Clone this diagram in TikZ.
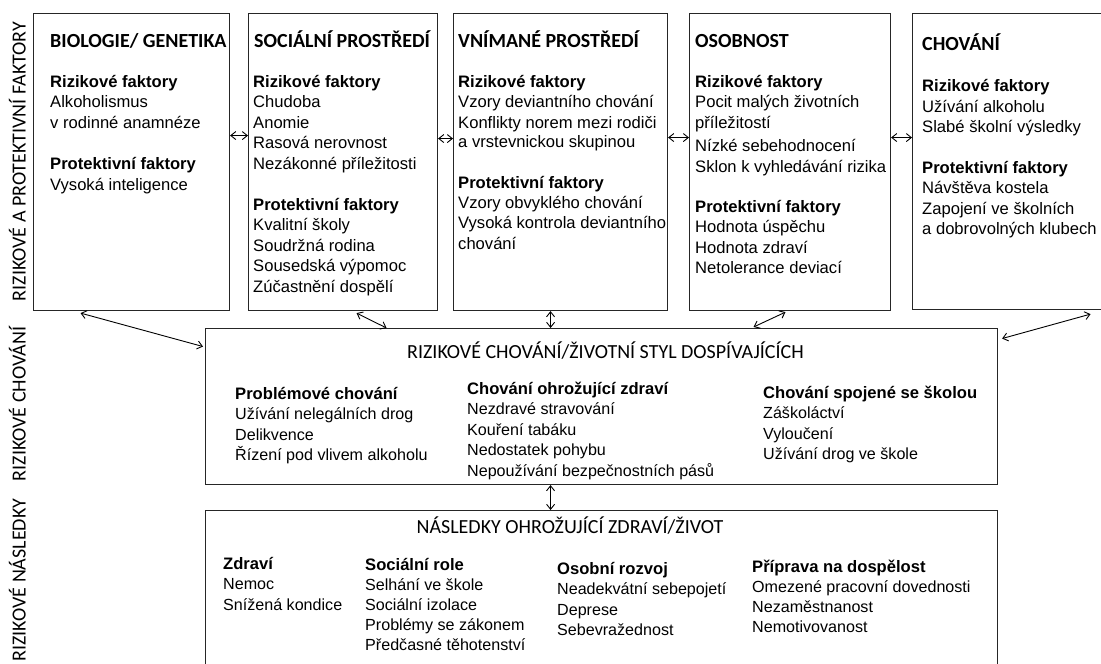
\documentclass[tikz,border=0pt]{standalone}
\usepackage{fontspec}
\setmainfont{Liberation Sans}
\newfontfamily\capfont{Carlito}
\usetikzlibrary{arrows.meta}

\tikzset{
  box/.style={draw=black!85,line width=1.1pt,rectangle,anchor=north west,inner sep=0pt},
  head/.style={anchor=base west,inner sep=0pt,font=\capfont\bfseries\fontsize{20}{24}\selectfont},
  title/.style={anchor=base,inner sep=0pt,font=\capfont\fontsize{20}{24}\selectfont},
  side/.style={rotate=90,anchor=base,inner sep=0pt,font=\capfont\fontsize{20}{24}\selectfont},
  sect/.style={anchor=base west,inner sep=0pt,font=\fontsize{16.6}{20}\selectfont\bfseries},
  item/.style={anchor=base west,inner sep=0pt,font=\fontsize{16.6}{20}\selectfont},
  litem/.style={anchor=base west,inner sep=0pt,font=\fontsize{16.1}{20}\selectfont},
  link/.style={<->,line width=0.9pt,>={Straight Barb[length=5pt,width=8pt]}}
}

\begin{document}
\begin{tikzpicture}[x=1pt,y=-1pt]
  \useasboundingbox (0,0) rectangle (1101,664);

  % side labels
  \node[side] (lab1) at (25.5,161.5) {RIZIKOVÉ A PROTEKTIVNÍ FAKTORY};
  \node[side] (lab2) at (25.5,404) {RIZIKOVÉ CHOVÁNÍ};
  \node[side] (lab3) at (25.5,580) {RIZIKOVÉ NÁSLEDKY};

  % boxes
  \node[box,minimum width=196pt,minimum height=297pt] (bio) at (33,13) {};
  \node[box,minimum width=189pt,minimum height=297pt] (soc) at (248,13) {};
  \node[box,minimum width=214pt,minimum height=297pt] (vni) at (453,13) {};
  \node[box,minimum width=201pt,minimum height=297pt] (oso) at (689,13) {};
  \node[box,minimum width=190pt,minimum height=296pt] (cho) at (912,13) {};
  \node[box,minimum width=792pt,minimum height=156pt] (risk) at (205,328) {};
  \node[box,minimum width=792pt,minimum height=200pt] (cons) at (205,510) {};

  % biologie
  \node[head] (bio-t) at (50,47) {BIOLOGIE/ GENETIKA};
  \node[sect] (bio-r) at (50,87) {Rizikové faktory};
  \foreach \t [count=\i] in {Alkoholismus, v rodinné anamnéze}
    \node[item] (bio-r\i) at (50,87+20.6*\i) {\t};
  \node[sect] (bio-p) at (50,169) {Protektivní faktory};
  \node[item] (bio-p1) at (50,190) {Vysoká inteligence};

  % socialni prostredi
  \node[head] (soc-t) at (254,47) {SOCIÁLNÍ PROSTŘEDÍ};
  \node[sect] (soc-r) at (253,87) {Rizikové faktory};
  \foreach \t [count=\i] in {Chudoba, Anomie, Rasová nerovnost, Nezákonné příležitosti}
    \node[item] (soc-r\i) at (253,87+20.6*\i) {\t};
  \node[sect] (soc-p) at (253,210) {Protektivní faktory};
  \foreach \t [count=\i] in {Kvalitní školy, Soudržná rodina, Sousedská výpomoc, Zúčastnění dospělí}
    \node[item] (soc-p\i) at (253,210+20.6*\i) {\t};

  % vnimane prostredi
  \node[head] (vni-t) at (458,47) {VNÍMANÉ PROSTŘEDÍ};
  \node[sect] (vni-r) at (458,87) {Rizikové faktory};
  \foreach \t/\y [count=\i] in {Vzory deviantního chování/107.5, Konflikty norem mezi rodiči/128, a vrstevnickou skupinou/147}
    \node[item] (vni-r\i) at (458,\y) {\t};
  \node[sect] (vni-p) at (458,188) {Protektivní faktory};
  \foreach \t [count=\i] in {Vzory obvyklého chování, Vysoká kontrola deviantního, chování}
    \node[item] (vni-p\i) at (458,188+20.4*\i) {\t};

  % osobnost
  \node[head] (oso-t) at (695,47) {OSOBNOST};
  \node[sect] (oso-r) at (695,87) {Rizikové faktory};
  \foreach \t/\y [count=\i] in {Pocit malých životních/107.5, příležitostí/128, Nízké sebehodnocení/151.5, Sklon k vyhledávání rizika/172}
    \node[item] (oso-r\i) at (695,\y) {\t};
  \node[sect] (oso-p) at (695,212) {Protektivní faktory};
  \foreach \t [count=\i] in {Hodnota úspěchu, Hodnota zdraví, Netolerance deviací}
    \node[item] (oso-p\i) at (695,212+20.5*\i) {\t};

  % chovani
  \node[head] (cho-t) at (922,50) {CHOVÁNÍ};
  \node[sect] (cho-r) at (922,91.5) {Rizikové faktory};
  \foreach \t [count=\i] in {Užívání alkoholu, Slabé školní výsledky}
    \node[item] (cho-r\i) at (922,91.5+20.5*\i) {\t};
  \node[sect] (cho-p) at (922,173) {Protektivní faktory};
  \foreach \t [count=\i] in {Návštěva kostela, Zapojení ve školních, a dobrovolných klubech}
    \node[item] (cho-p\i) at (922,173+20.5*\i) {\t};

  % rizikove chovani
  \node[title] (risk-t) at (605.5,358) {RIZIKOVÉ CHOVÁNÍ/ŽIVOTNÍ STYL DOSPÍVAJÍCÍCH};
  \node[sect] (prob) at (235,399) {Problémové chování};
  \foreach \t [count=\i] in {Užívání nelegálních drog, Delikvence, Řízení pod vlivem alkoholu}
    \node[litem] (prob\i) at (235,399+20.5*\i) {\t};
  \node[sect] (zdr) at (467,394) {Chování ohrožující zdraví};
  \foreach \t [count=\i] in {Nezdravé stravování, Kouření tabáku, Nedostatek pohybu, Nepoužívání bezpečnostních pásů}
    \node[litem] (zdr\i) at (467,394+20.5*\i) {\t};
  \node[sect] (skol) at (763,398) {Chování spojené se školou};
  \foreach \t [count=\i] in {Záškoláctví, Vyloučení, Užívání drog ve škole}
    \node[litem] (skol\i) at (763,398+20.5*\i) {\t};

  % nasledky
  \node[title] (cons-t) at (570,533) {NÁSLEDKY OHROŽUJÍCÍ ZDRAVÍ/ŽIVOT};
  \node[sect] (hlth) at (223,569.5) {Zdraví};
  \foreach \t [count=\i] in {Nemoc, Snížená kondice}
    \node[litem] (hlth\i) at (223,569.5+20.3*\i) {\t};
  \node[sect] (role) at (365,570.5) {Sociální role};
  \foreach \t [count=\i] in {Selhání ve škole, Sociální izolace, Problémy se zákonem, Předčasné těhotenství}
    \node[litem] (role\i) at (365,570.5+20.1*\i) {\t};
  \node[sect] (pers) at (557,574.5) {Osobní rozvoj};
  \foreach \t [count=\i] in {Neadekvátní sebepojetí, Deprese, Sebevražednost}
    \node[litem] (pers\i) at (557,574.5+20.3*\i) {\t};
  \node[sect] (adlt) at (752,572) {Příprava na dospělost};
  \foreach \t [count=\i] in {Omezené pracovní dovednosti, Nezaměstnanost, Nemotivovanost}
    \node[litem] (adlt\i) at (752,572+20.2*\i) {\t};

  % connectors
  \draw[link] ([yshift=26.5pt]bio.east) -- ([yshift=26.5pt]soc.west);
  \draw[link] ([yshift=23.5pt]soc.east) -- ([yshift=23.5pt]vni.west);
  \draw[link] ([yshift=24.5pt]vni.east) -- ([yshift=24.5pt]oso.west);
  \draw[link] ([yshift=24.5pt]oso.east) -- ([yshift=24pt]cho.west);
  \draw[link] ([xshift=-51pt,yshift=-2pt]bio.south) -- ([xshift=-2pt,yshift=60pt]risk.west);
  \draw[link] ([xshift=13.5pt,yshift=-2pt]soc.south) -- ([xshift=-215pt]risk.north);
  \draw[link] ([xshift=-10pt]vni.south) -- ([xshift=-51pt]risk.north);
  \draw[link] ([xshift=-4.5pt,yshift=-1pt]oso.south) -- ([xshift=152pt,yshift=1pt]risk.north);
  \draw[link] ([xshift=83pt,yshift=-4pt]cho.south) -- ([xshift=4pt,yshift=68pt]risk.east);
  \draw[link] ([xshift=-51pt]risk.south) -- ([xshift=-51pt]cons.north);
\end{tikzpicture}
\end{document}
